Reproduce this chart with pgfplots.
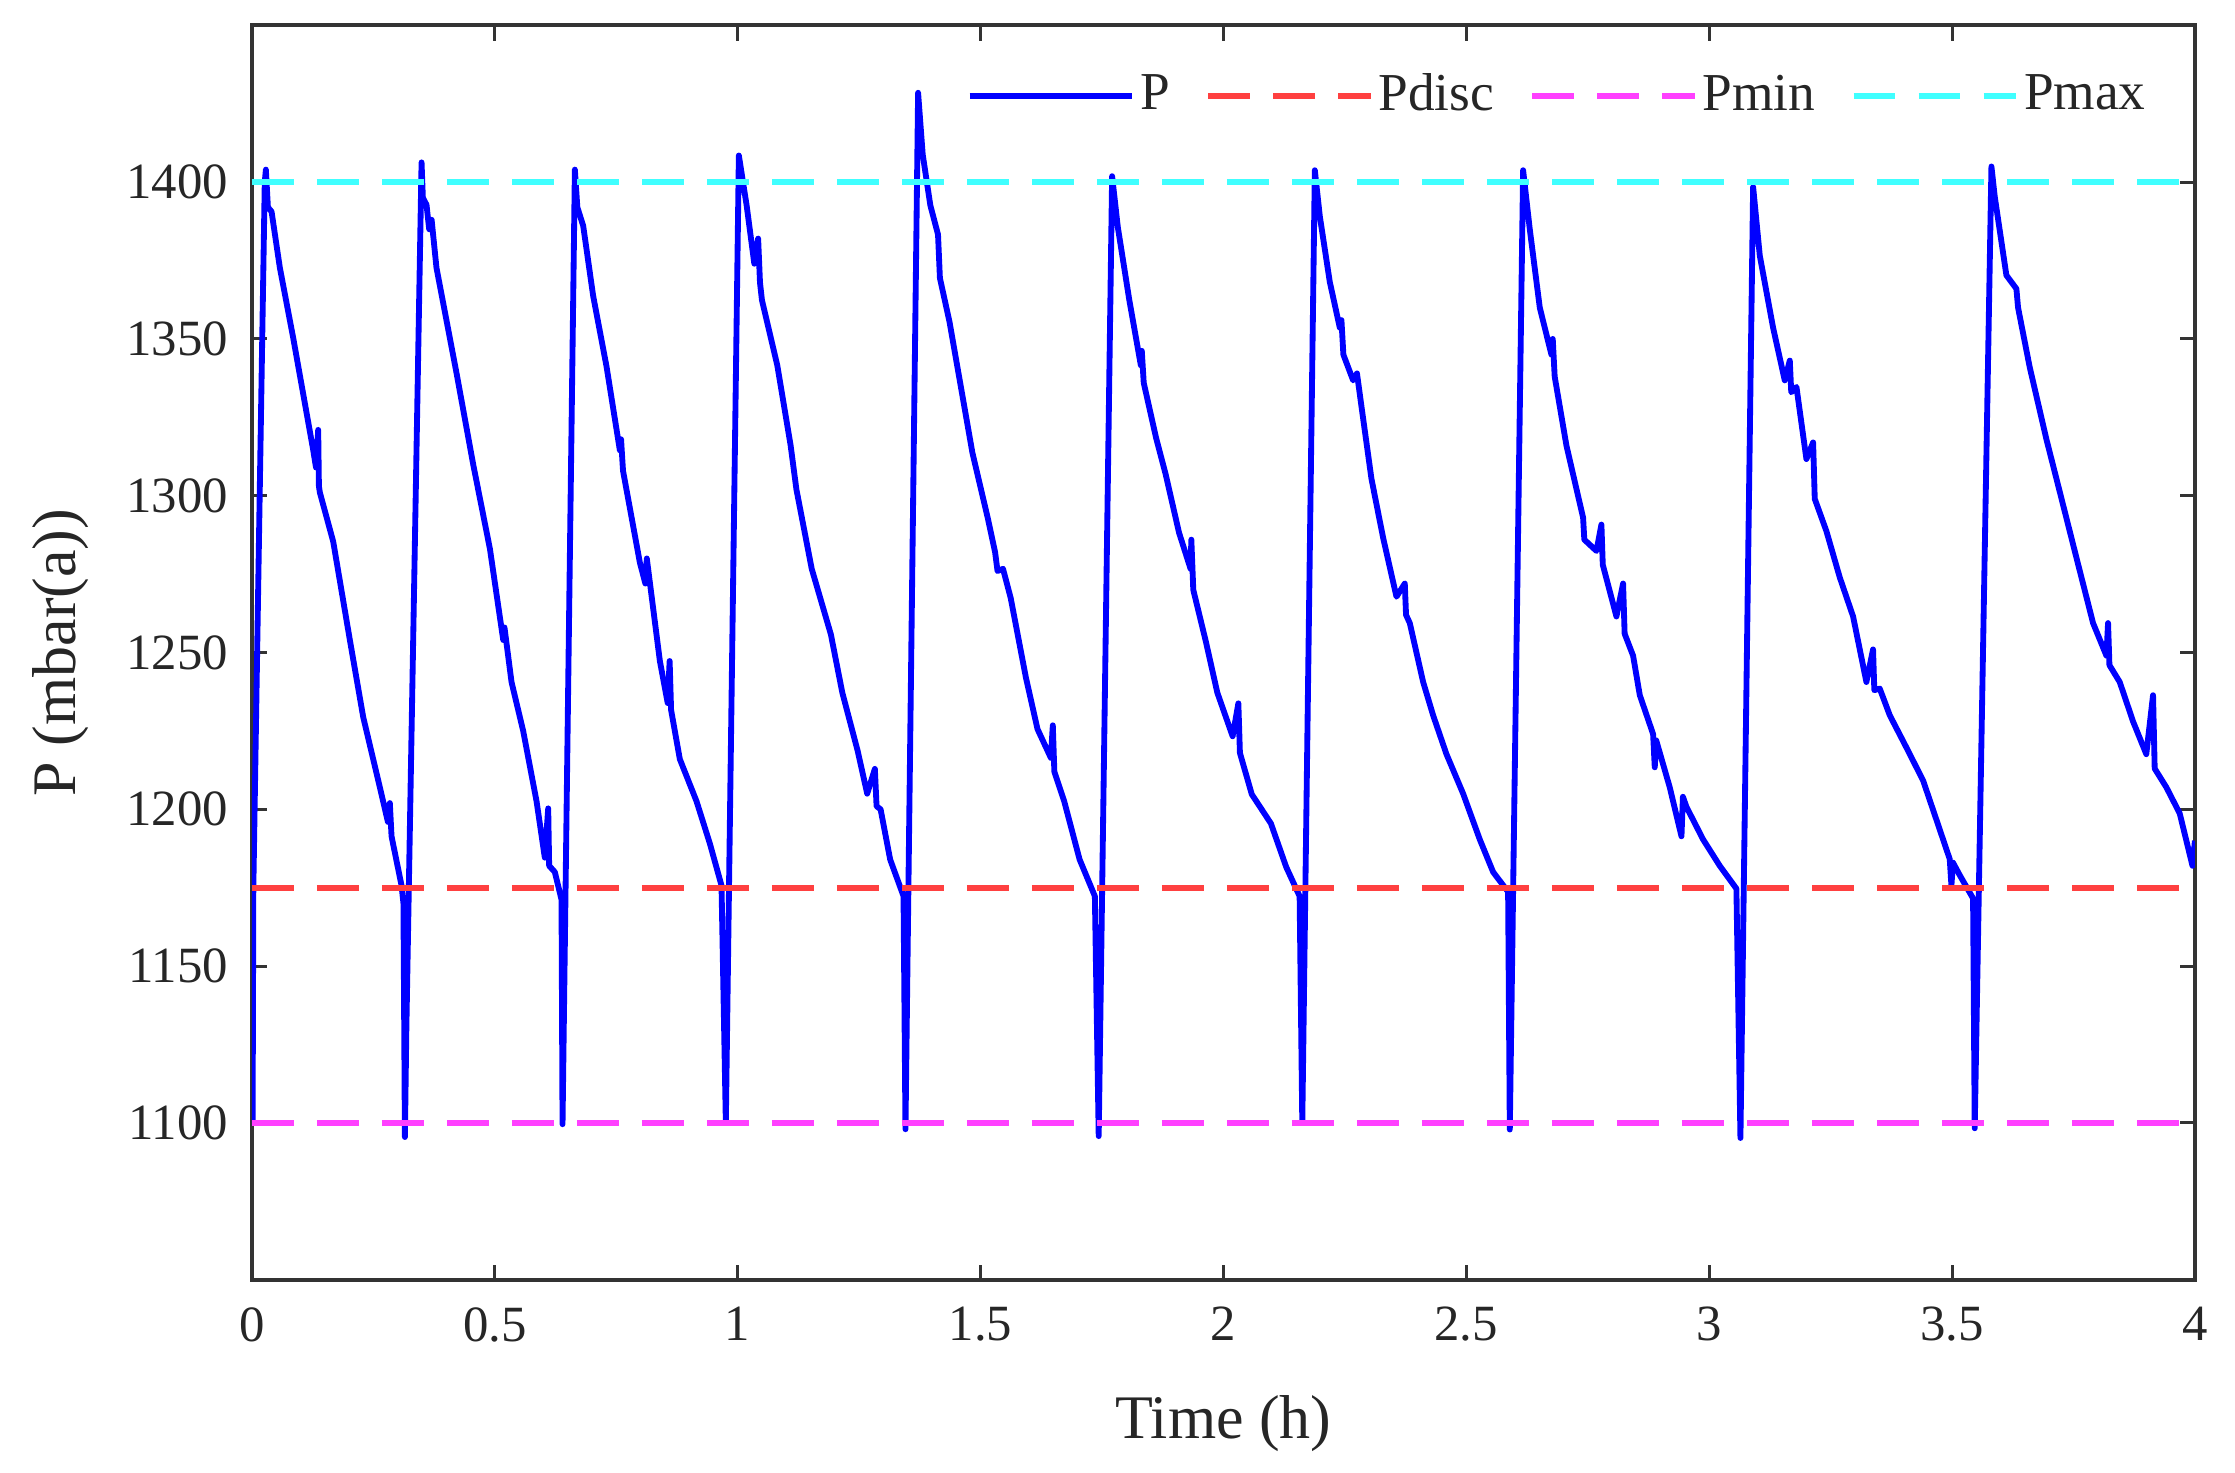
\documentclass[border=0pt]{standalone}
\usepackage{fontspec}
\setmainfont{Liberation Serif}
\usepackage{pgfplots}
\pgfplotsset{compat=1.18}
\definecolor{pblue}{RGB}{0,0,255}
\definecolor{pred}{RGB}{255,64,64}
\definecolor{pmag}{RGB}{255,64,255}
\definecolor{pcyan}{RGB}{64,255,255}
\begin{document}
\begin{tikzpicture}
\begin{axis}[
  width=382.6pt, height=247pt, scale only axis,
  xmin=0, xmax=4, ymin=1050, ymax=1450,
  xtick={0,0.5,1,1.5,2,2.5,3,3.5,4},
  xticklabels={0,0.5,1,1.5,2,2.5,3,3.5,4},
  ytick={1100,1150,1200,1250,1300,1350,1400},
  yticklabels={1100,1150,1200,1250,1300,1350,1400},
  tick align=inside, major tick length=3pt,
  tick style={black!80, line width=0.6pt},
  axis line style={black!80, line width=0.8pt},
  ticklabel style={font=\fontsize{10}{12}\selectfont, text=black!85},
  /pgf/number format/assume math mode=true,
  xticklabel style={yshift=-1.9pt},
  yticklabel style={xshift=-1.2pt},
  xlabel={Time (h)}, ylabel={P (mbar(a))},
  label style={font=\fontsize{12.2}{14}\selectfont, text=black!85},
  x label style={at={(axis description cs:0.5,-0.0911)}, anchor=north, inner sep=0pt},
  y label style={at={(axis description cs:-0.08338,0.5)}, anchor=south, inner sep=0pt},
  legend columns=4,
  legend style={draw=none, fill=none, at={(axis description cs:0.9777,0.9435)}, anchor=east,
    font=\fontsize{10.5}{12}\selectfont, text=black!85, inner sep=0pt,
    nodes={inner sep=1pt},
    /tikz/every even column/.append style={column sep=6pt}},
  legend image code/.code={\draw[#1] (0pt,0pt) -- (32pt,0pt);},
]
\addplot[pblue, line width=1.15pt, line join=round] coordinates {
(0.000,1140) (0.0015,1100) (0.003,1175) (0.0265,1400) (0.0288,1404) (0.033,1392) (0.0405,1390.6) (0.0576,1372.7) (0.0851,1350.3) (0.1263,1314.5) (0.132,1309) (0.1365,1321) (0.138,1303) (0.140,1301) (0.1674,1285.4) (0.2017,1254) (0.2292,1229.4) (0.2635,1207) (0.280,1196) (0.284,1202) (0.2875,1191.4) (0.3081,1175.7) (0.312,1170) (0.315,1095.5) (0.318,1130) (0.3493,1406.3)
(0.352,1395) (0.3595,1392.8) (0.365,1385) (0.370,1388) (0.380,1372.7) (0.4213,1339.1) (0.4556,1310) (0.490,1283.1) (0.5174,1254) (0.520,1258) (0.5345,1240.6) (0.5585,1225) (0.586,1202.6) (0.603,1184.6) (0.610,1200.3) (0.612,1182) (0.6237,1180) (0.6374,1171.2) (0.6395,1099.6) (0.6649,1404)
(0.670,1392) (0.682,1386.1) (0.7026,1363.7) (0.730,1341.3) (0.7575,1314.5) (0.760,1318) (0.764,1308) (0.7987,1278.7) (0.810,1272) (0.813,1280) (0.8399,1247.3) (0.856,1233.9) (0.860,1247.3) (0.863,1231.7) (0.881,1216) (0.9153,1202.6) (0.9428,1189.1) (0.9668,1175.7) (0.9757,1100) (1.0025,1408.5)
(1.0185,1392.6) (1.0343,1374) (1.0422,1382) (1.046,1368) (1.050,1362.4) (1.0816,1341.6) (1.1091,1316) (1.121,1302) (1.1525,1276.7) (1.1919,1255.8) (1.2155,1237.2) (1.247,1218.7) (1.2667,1205) (1.2825,1212.9) (1.286,1201) (1.2943,1200) (1.314,1184) (1.3415,1172.3) (1.3455,1098) (1.3715,1428.5)
(1.381,1408.8) (1.3967,1392.6) (1.4125,1383.3) (1.4164,1369.4) (1.4361,1355.5) (1.4597,1334.6) (1.4833,1313.7) (1.5149,1292.9) (1.530,1282) (1.535,1276) (1.5463,1276.7) (1.5621,1267.4) (1.5936,1241.9) (1.6173,1225.6) (1.6448,1216.4) (1.6488,1226.8) (1.652,1212) (1.6724,1202.5) (1.704,1184) (1.7354,1172.3) (1.7433,1095.8) (1.7709,1401.9)
(1.7827,1385.6) (1.8063,1362.4) (1.830,1341.6) (1.832,1346.2) (1.836,1336) (1.8615,1318.4) (1.8812,1306.8) (1.9087,1288.2) (1.9324,1276.7) (1.934,1286) (1.938,1270) (1.9639,1253.5) (1.9875,1237.2) (2.019,1223.3) (2.0308,1233.8) (2.034,1218) (2.0584,1204.8) (2.0978,1195.5) (2.1293,1181.6) (2.1569,1172.3) (2.1624,1100) (2.1882,1403.8)
(2.1985,1389.1) (2.219,1368.2) (2.2396,1353.6) (2.243,1356) (2.247,1345) (2.267,1336.8) (2.275,1339) (2.2842,1328.5) (2.3048,1305.4) (2.3288,1286.6) (2.3563,1267.8) (2.3734,1272) (2.376,1262) (2.3837,1259.4) (2.4112,1240.6) (2.4317,1230) (2.4592,1217.6) (2.4935,1205) (2.5278,1190.4) (2.5553,1180) (2.5861,1173.7) (2.5896,1097.9) (2.617,1403.8)
(2.6307,1385) (2.6513,1360) (2.6753,1345) (2.678,1350) (2.682,1338) (2.7062,1316) (2.7405,1293) (2.743,1286) (2.768,1282.4) (2.7782,1290.8) (2.781,1278) (2.8091,1261.5) (2.8228,1272) (2.826,1256) (2.8434,1249) (2.8572,1236.4) (2.8846,1224) (2.888,1213.4) (2.891,1222) (2.9189,1207) (2.943,1191.4) (2.946,1204) (2.9532,1200.8) (2.9875,1190.4) (3.0218,1182) (3.0561,1174.7) (3.0644,1095.2) (3.0905,1398.5)
(3.1042,1376.6) (3.1316,1353.6) (3.1556,1336.8) (3.166,1343.1) (3.169,1333) (3.1797,1334.7) (3.2002,1311.7) (3.214,1317) (3.2174,1299) (3.2414,1288.7) (3.2688,1274) (3.2963,1261.5) (3.3237,1240.6) (3.3374,1251) (3.340,1238) (3.3512,1238.5) (3.3718,1230) (3.4061,1219.7) (3.4404,1209.2) (3.4678,1196.7) (3.4953,1184.1) (3.4987,1175.7) (3.502,1183) (3.5159,1179) (3.5433,1171.6) (3.5467,1098.3) (3.5811,1405)
(3.5879,1395.4) (3.6119,1370.3) (3.6325,1366) (3.6359,1360) (3.6599,1341) (3.6943,1318) (3.7217,1301.3) (3.756,1280.3) (3.7903,1259.4) (3.8178,1249) (3.8212,1259.4) (3.824,1246) (3.8452,1240.6) (3.8727,1228) (3.8999,1217.6) (3.9138,1236.4) (3.9172,1213) (3.9413,1207) (3.9687,1198.7) (3.995,1182) (4.0,1190)
};
\addlegendentry{P}
\addplot[pred, line width=1.1pt, dash pattern=on 8.2pt off 4.6pt] coordinates {(0,1175) (4,1175)};
\addlegendentry{Pdisc}
\addplot[pmag, line width=1.1pt, dash pattern=on 8.2pt off 4.6pt] coordinates {(0,1100) (4,1100)};
\addlegendentry{Pmin}
\addplot[pcyan, line width=1.1pt, dash pattern=on 8.2pt off 4.6pt] coordinates {(0,1400) (4,1400)};
\addlegendentry{Pmax}
\coordinate (SW) at (rel axis cs:0,0);
\coordinate (NE) at (rel axis cs:1,1);
\end{axis}
\pgfresetboundingbox
\path ([shift={(-49.6pt,-38pt)}]SW) rectangle ([shift={(7.9pt,5pt)}]NE);
\end{tikzpicture}
\end{document}
